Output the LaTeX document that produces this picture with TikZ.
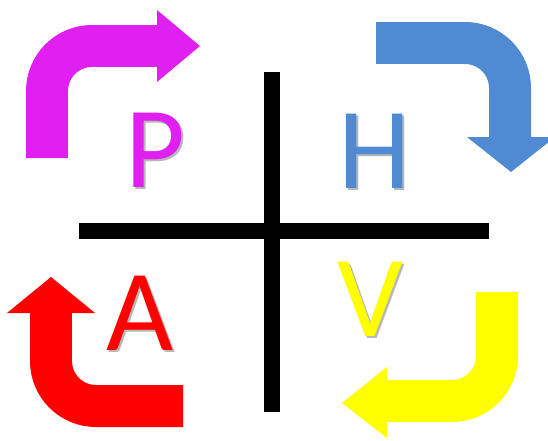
\documentclass[tikz,border=0pt]{standalone}
\usepackage{fontspec}
\setmainfont{Carlito}
\usepackage{xcolor}
\usetikzlibrary{positioning}

\definecolor{pcol}{RGB}{224,32,240}
\definecolor{hcol}{RGB}{80,138,210}
\definecolor{acol}{RGB}{255,0,0}
\definecolor{vcol}{RGB}{255,255,0}

% letter with a soft grey drop shadow
\newcommand{\shadowletter}[1]{%
  \makebox[0pt][l]{\hspace{1.2pt}\raisebox{-1.2pt}{\textcolor{black!28}{#1}}}#1}

\begin{document}
\begin{tikzpicture}[
    x=0.02cm, y=-0.02cm,
    shaft/.style={line width=0.84cm, rounded corners=0.9cm},
    letter/.style={inner sep=0pt, font=\fontsize{66}{66}\selectfont},
    bar/.style={line width=0.32cm, black}
]
\useasboundingbox (0,0) rectangle (548,440);

% cross
\coordinate (ctop) at (272,72);
\coordinate (cbot) at (272,412);
\coordinate (cleft) at (79,231);
\coordinate (cright) at (489,231);
\draw[bar] (ctop) -- (cbot);
\draw[bar] (cleft) -- (cright);

% P arrow (up, then right)
\draw[shaft, pcol] (47,158) -- (47,46) -- (160,46);
\fill[pcol] (157,10) -- (200,46) -- (157,82) -- cycle;

% H arrow (right, then down)
\draw[shaft, hcol] (376,43) -- (510,43) -- (510,140);
\fill[hcol] (467,137) -- (511,172) -- (555,137) -- cycle;

% A arrow (left, then up)
\draw[shaft, acol] (183,406) -- (51,406) -- (51,310);
\fill[acol] (7,313) -- (51,277) -- (95,313) -- cycle;

% V arrow (down, then left)
\draw[shaft, vcol] (497,292) -- (497,401) -- (384,401);
\fill[vcol] (387,367) -- (342,403) -- (387,438) -- cycle;

% letters
\node[letter, text=pcol] (p) at (155,151) {\shadowletter{P}};
\node[letter, text=hcol] (h) at (375,152) {\shadowletter{H}};
\node[letter, text=acol] (a) at (140,314) {\shadowletter{A}};
\node[letter, text=vcol] (v) at (370,300) {\shadowletter{V}};
\end{tikzpicture}
\end{document}
